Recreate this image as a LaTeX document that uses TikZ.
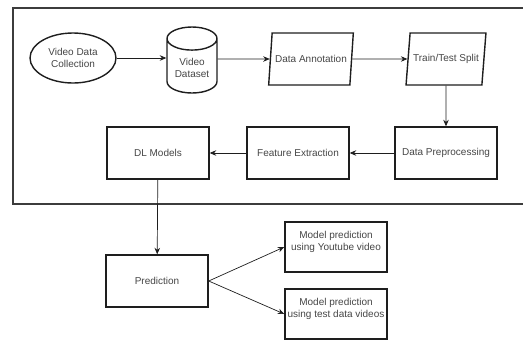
\documentclass[tikz,border=0pt]{standalone}
\usepackage{fontspec}
\setmainfont{Liberation Sans}
\usetikzlibrary{arrows.meta,positioning,shapes.geometric}
\definecolor{ink}{RGB}{30,30,30}
\definecolor{txt}{RGB}{70,70,70}
\definecolor{frame}{RGB}{60,60,60}
\tikzset{
  every picture/.style={color=ink, line width=0.8pt},
  box/.style={draw=ink, line width=1.4pt, fill=white, inner sep=2pt, align=center,
    text=txt, font=\fontsize{10}{12}\selectfont, minimum width=102pt, minimum height=52pt},
  oval/.style={box, ellipse, minimum width=86pt, minimum height=50pt},
  store/.style={box, cylinder, shape border rotate=90, aspect=0.6, minimum width=50pt, minimum height=66pt},
  io/.style={box, trapezium, trapezium left angle=73, trapezium right angle=107,
    trapezium stretches body, minimum width=70pt, minimum height=52pt, inner xsep=3pt},
  flow/.style={-{Stealth[length=6.5pt,width=5.5pt]}, line width=0.7pt, color=ink},
  border/.style={draw=frame, line width=1.8pt},
}

\begin{document}
\begin{tikzpicture}[x=1pt, y=-1pt]
  \useasboundingbox (0,0) rectangle (523,341);
  % the pipeline sits inside an open frame that runs off the right edge
  \draw[border] (524,8) -- (13,8) -- (13,204) -- (524,204);
  \node[oval] (coll) at (73,58) {Video Data\\Collection};
  \node[store, anchor=shape center] (dset) at (192,60) {Video\\Dataset};
  \node[io] (annot) at (311,59) {Data Annotation};
  \node[io] (split) at (446,59) {Train/Test Split};
  \node[box] (prep) at (446,153) {Data Preprocessing};
  \node[box] (feat) at (298,153) {Feature Extraction};
  \node[box] (dl) at (158,153) {DL Models};
  \node[box] (pred) at (157,281) {Prediction};
  \node[box, minimum height=50pt] (yt) at (336,247) {Model prediction\\using Youtube video\\\mbox{}};
  \node[box, minimum height=50pt] (test) at (336,314) {Model prediction\\using test data videos\\\mbox{}};
  \draw[flow] (coll) -- (coll -| dset.west);
  \draw[flow] (dset.east |- annot) -- (annot);
  \draw[flow] (annot) -- (split);
  \draw[flow] (split.south) -- (prep.north);
  \draw[flow] (prep) -- (feat);
  \draw[flow] (feat) -- (dl);
  \draw[flow] (dl) -- (pred);
  \draw[flow] (pred.east) -- (yt.west);
  \draw[flow] (pred.east) -- (test.west);
\end{tikzpicture}
\end{document}
